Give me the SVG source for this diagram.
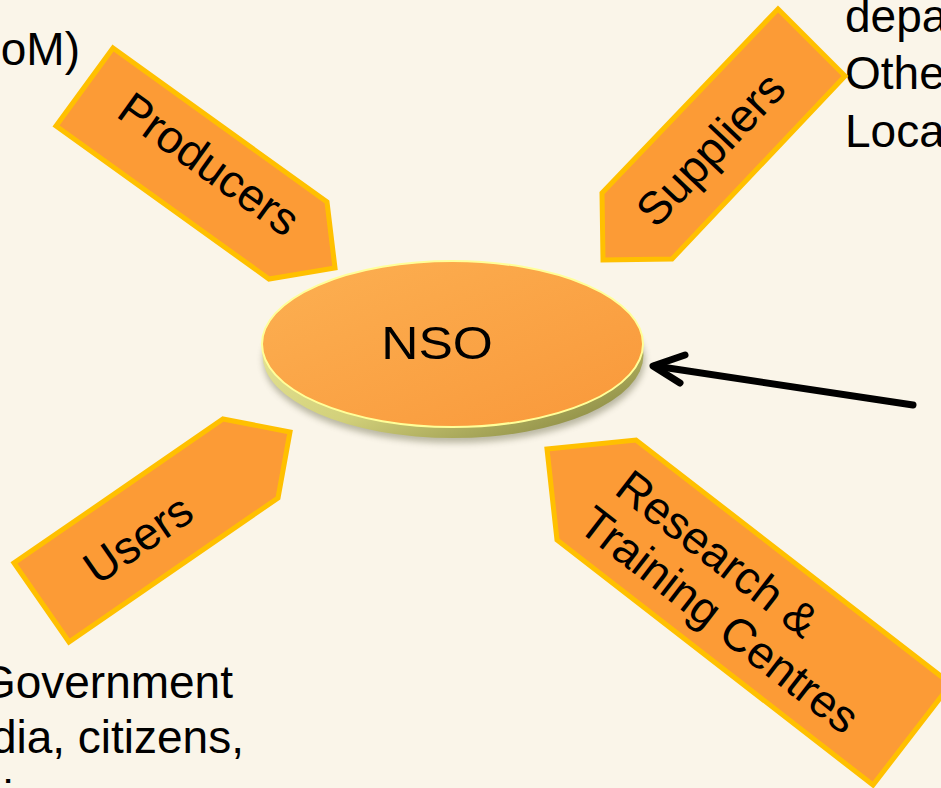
<svg xmlns="http://www.w3.org/2000/svg" width="941" height="788" viewBox="0 0 941 788">
  <defs>
    <style>
      .bg { fill: #FAF5E9; }
      .pointer { fill: #FC9B36; stroke: #FFC000; stroke-width: 5; stroke-linejoin: miter; }
      .label { font-family: "Liberation Sans", Arial, sans-serif; font-size: 46px; fill: #000; }
      .side { font-family: "Liberation Sans", Arial, sans-serif; font-size: 46px; fill: #000; }
      .link { fill: none; stroke: #000; stroke-width: 7; stroke-linecap: round; stroke-linejoin: round; }
    </style>
    <linearGradient id="faceGrad" x1="0" y1="0" x2="1" y2="1">
      <stop offset="0" stop-color="#FCB052"/>
      <stop offset="1" stop-color="#F9983A"/>
    </linearGradient>
    <linearGradient id="rimGrad" x1="0" y1="0" x2="1" y2="1">
      <stop offset="0" stop-color="#F2F0A4"/>
      <stop offset="0.55" stop-color="#D2D07A"/>
      <stop offset="1" stop-color="#7A7A36"/>
    </linearGradient>
    <filter id="soft" x="-10%" y="-20%" width="120%" height="140%">
      <feGaussianBlur stdDeviation="3"/>
    </filter>
  </defs>

  <rect class="bg" x="0" y="0" width="941" height="788"/>

  <!-- partial side texts -->
  <g id="side-texts">
    <text class="side" x="80" y="65" text-anchor="end">(GoM)</text>
    <text class="side" x="845" y="32">depa</text>
    <text class="side" x="845" y="89">Othe</text>
    <text class="side" x="845" y="147">Loca</text>
    <text class="side" x="233" y="698" text-anchor="end">Government</text>
    <text class="side" x="244" y="753" text-anchor="end">dia, citizens,</text>
    <text class="side" x="3" y="813">i</text>
  </g>

  <!-- centre disc -->
  <g id="node-nso">
    <ellipse cx="454" cy="360" rx="191" ry="83" fill="#6E6E50" opacity="0.45" filter="url(#soft)"/>
    <ellipse cx="453" cy="355" rx="190.5" ry="83" fill="url(#rimGrad)"/>
    <ellipse cx="452.5" cy="344" rx="190.5" ry="83" fill="url(#faceGrad)" stroke="#FFFF99" stroke-width="2"/>
    <text class="label" x="0" y="0" font-size="42" text-anchor="middle" transform="translate(437,359) scale(1.12,1)">NSO</text>
  </g>

  <!-- Producers -->
  <g id="node-producers">
    <polygon class="pointer" points="113,48 327,202 335,268 269,279 56,126"/>
    <text class="label" text-anchor="middle" transform="translate(200,177) rotate(35.7)">Producers</text>
  </g>

  <!-- Suppliers -->
  <g id="node-suppliers">
    <polygon class="pointer" points="778,9 845,76 672,259 603,260 602,193"/>
    <text class="label" text-anchor="middle" transform="translate(722,160) rotate(-46.5)">Suppliers</text>
  </g>

  <!-- Users -->
  <g id="node-users">
    <polygon class="pointer" points="223,419 290,432 278,498 69,642 14,563"/>
    <text class="label" text-anchor="middle" transform="translate(147,552) rotate(-34.6)">Users</text>
  </g>

  <!-- Research & Training Centres -->
  <g id="node-research">
    <polygon class="pointer" points="547,449 636,440 951,684 873,785 557,540"/>
    <g transform="translate(636,440) rotate(37.7)">
      <text class="label" x="14" y="56">Research &amp;</text>
      <text class="label" x="7" y="107">Training Centres</text>
    </g>
  </g>

  <!-- connectors -->
  <g id="connectors">
    <line class="link" x1="913" y1="405" x2="655" y2="366"/>
    <polyline class="link" points="685,355 653,366 680,383"/>
  </g>
</svg>
